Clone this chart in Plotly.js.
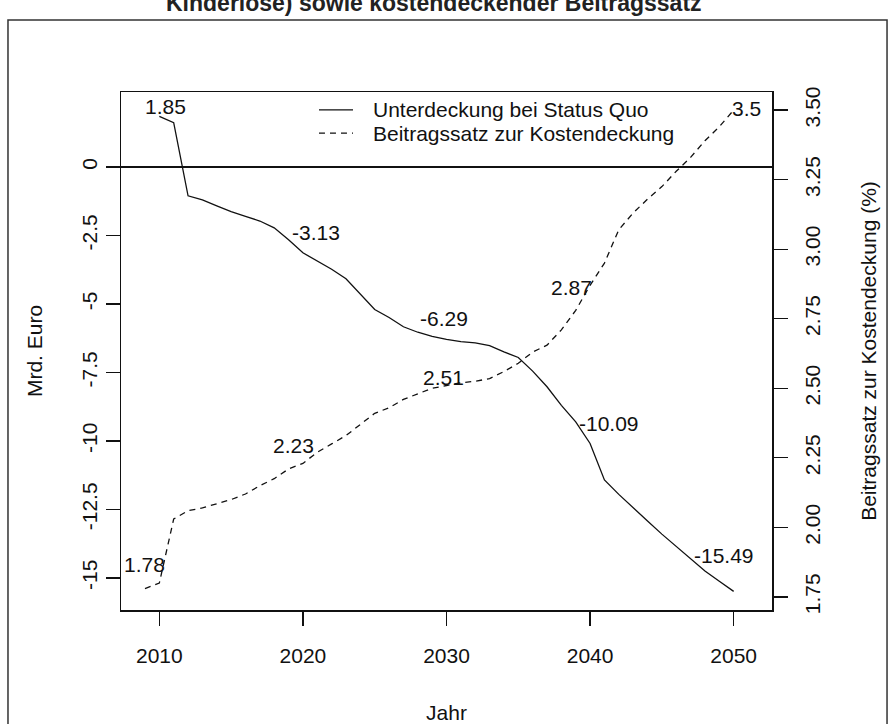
<!DOCTYPE html>
<html>
<head>
<meta charset="utf-8">
<script src="https://cdn.plot.ly/plotly-3.0.1.min.js"></script>
<style>
  html, body { margin: 0; padding: 0; background: #fff; }
  #chart { width: 892px; height: 724px; }
</style>
</head>
<body>
<div id="chart"></div>
<script>
// Unterdeckung (Mrd. Euro) bei Status Quo, 2010-2050
const deficitYears = [2010, 2011, 2012, 2013, 2014, 2015, 2016, 2017, 2018, 2019,
  2020, 2021, 2022, 2023, 2024, 2025, 2026, 2027, 2028, 2029,
  2030, 2031, 2032, 2033, 2034, 2035, 2036, 2037, 2038, 2039,
  2040, 2041, 2042, 2043, 2044, 2045, 2046, 2047, 2048, 2049, 2050];
const deficit = [1.85, 1.62, -1.05, -1.20, -1.42, -1.63, -1.80, -1.97, -2.22, -2.65,
  -3.13, -3.43, -3.73, -4.08, -4.63, -5.20, -5.49, -5.83, -6.03, -6.18,
  -6.29, -6.37, -6.42, -6.52, -6.75, -6.95, -7.45, -8.02, -8.70, -9.30,
  -10.09, -11.42, -11.95, -12.45, -12.92, -13.40, -13.85, -14.30, -14.75, -15.12, -15.49];

// Kostendeckender Beitragssatz (%), 2009-2050
const rateYears = [2009, 2010, 2011, 2012, 2013, 2014, 2015, 2016, 2017, 2018, 2019,
  2020, 2021, 2022, 2023, 2024, 2025, 2026, 2027, 2028, 2029,
  2030, 2031, 2032, 2033, 2034, 2035, 2036, 2037, 2038, 2039,
  2040, 2041, 2042, 2043, 2044, 2045, 2046, 2047, 2048, 2049, 2050];
const rate = [1.78, 1.80, 2.03, 2.06, 2.07, 2.085, 2.10, 2.12, 2.15, 2.175, 2.21,
  2.23, 2.27, 2.30, 2.33, 2.37, 2.41, 2.43, 2.46, 2.48, 2.50,
  2.51, 2.52, 2.525, 2.535, 2.56, 2.59, 2.63, 2.655, 2.71, 2.78,
  2.87, 2.95, 3.07, 3.13, 3.18, 3.225, 3.28, 3.33, 3.39, 3.44, 3.5];

// Years whose values are written next to each line
const deficitLabelYears = [2010, 2020, 2030, 2040, 2050];
const rateLabelYears = [2009, 2020, 2030, 2040, 2050];

// Axis ticks
const xTickVals = [2010, 2020, 2030, 2040, 2050];
const xTickText = ['2010', '2020', '2030', '2040', '2050'];
const yTickVals = [0, -2.5, -5, -7.5, -10, -12.5, -15];
const yTickText = ['0', '-2.5', '-5', '-7.5', '-10', '-12.5', '-15'];
const y2TickVals = [1.75, 2.0, 2.25, 2.5, 2.75, 3.0, 3.25, 3.5];
const y2TickText = ['1.75', '2.00', '2.25', '2.50', '2.75', '3.00', '3.25', '3.50'];

const seriesNames = ['Unterdeckung bei Status Quo', 'Beitragssatz zur Kostendeckung'];

// Pixel offsets of the value labels relative to their points
const deficitLabelShift = [[6, 10], [13, 20], [-3, 21], [19, 20], [-10, 36]];
const rateLabelShift = [[0, 24], [-9, 18], [-3, 8], [-19, -2], [13, 2]];

const FONT = 'Liberation Sans, Arial, sans-serif';
const INK = '#111';
const SOLID = { color: INK, width: 1.3 };
const DASHED = { color: INK, width: 1.3, dash: '6px,5px' };

const traces = [
  {
    x: deficitYears, y: deficit, name: seriesNames[0],
    type: 'scatter', mode: 'lines', yaxis: 'y', line: SOLID
  },
  {
    x: rateYears, y: rate, name: seriesNames[1],
    type: 'scatter', mode: 'lines', yaxis: 'y2', line: DASHED
  }
];

const annotations = [];
deficitLabelYears.forEach(function (yr, i) {
  const v = deficit[deficitYears.indexOf(yr)];
  annotations.push({
    x: yr, y: v, xref: 'x', yref: 'y', text: String(v), showarrow: false,
    xanchor: 'center', yanchor: 'middle',
    xshift: deficitLabelShift[i][0], yshift: deficitLabelShift[i][1],
    font: { family: FONT, size: 21, color: INK }
  });
});
rateLabelYears.forEach(function (yr, i) {
  const v = rate[rateYears.indexOf(yr)];
  annotations.push({
    x: yr, y: v, xref: 'x', yref: 'y2', text: String(v), showarrow: false,
    xanchor: 'center', yanchor: 'middle',
    xshift: rateLabelShift[i][0], yshift: rateLabelShift[i][1],
    font: { family: FONT, size: 21, color: INK }
  });
});

// Legend in the top of the plot: a line sample and the series name per row
const legendRows = [0.9653, 0.9208];
const legendStyles = [SOLID, DASHED];
const legendShapes = [];
seriesNames.forEach(function (name, i) {
  legendShapes.push({
    type: 'line', xref: 'paper', yref: 'paper',
    x0: 0.3041, x1: 0.3564, y0: legendRows[i], y1: legendRows[i],
    line: legendStyles[i]
  });
  annotations.push({
    xref: 'paper', yref: 'paper', x: 0.384, y: legendRows[i],
    xanchor: 'left', yanchor: 'middle', showarrow: false, text: name,
    font: { family: FONT, size: 21, color: INK }
  });
});

// Second line of the heading (its first line sits above the page edge)
annotations.push({
  xref: 'paper', yref: 'paper', x: 0.481, y: 1.172,
  xanchor: 'center', yanchor: 'middle', showarrow: false,
  text: '<b>Kinderlose) sowie kostendeckender Beitragssatz</b>',
  font: { family: FONT, size: 23, color: '#222' }
});

const axisCommon = {
  showgrid: false,
  ticks: 'outside', ticklen: 14, tickwidth: 1.3, tickcolor: INK,
  showline: true, linecolor: INK, linewidth: 1.5,
  tickfont: { family: FONT, size: 21, color: INK }
};

const layout = {
  width: 892, height: 724,
  margin: { l: 121, r: 120, t: 92, b: 114, pad: 0 },
  paper_bgcolor: '#fff', plot_bgcolor: '#fff',
  font: { family: FONT, size: 21, color: INK },
  showlegend: false,
  xaxis: Object.assign({}, axisCommon, {
    range: [2007.33, 2052.67],
    tickmode: 'array', tickvals: xTickVals, ticktext: xTickText,
    ticklabelstandoff: 12,
    mirror: true, zeroline: false,
    title: { text: 'Jahr', standoff: 40, font: { family: FONT, size: 21, color: INK } }
  }),
  yaxis: Object.assign({}, axisCommon, {
    range: [-16.17, 2.74],
    tickmode: 'array', tickvals: yTickVals, ticktext: yTickText,
    tickangle: -90, mirror: true,
    zeroline: true, zerolinecolor: INK, zerolinewidth: 1.5,
    title: { text: 'Mrd. Euro', standoff: 29, font: { family: FONT, size: 21, color: INK } }
  }),
  yaxis2: Object.assign({}, axisCommon, {
    overlaying: 'y', side: 'right',
    range: [1.703, 3.565],
    tickmode: 'array', tickvals: y2TickVals, ticktext: y2TickText,
    tickangle: -90, zeroline: false,
    ticklabelstandoff: 7,
    title: { text: 'Beitragssatz zur Kostendeckung (%)', standoff: 38, font: { family: FONT, size: 21, color: INK } }
  }),
  annotations: annotations,
  shapes: legendShapes.concat([
    // outer frame around the whole figure
    {
      type: 'rect', xref: 'paper', yref: 'paper',
      x0: -0.1736, x1: 1.1767, y0: -0.26, y1: 1.139,
      line: { color: '#333', width: 1.5 }, fillcolor: 'rgba(0,0,0,0)', layer: 'above'
    }
  ])
};

Plotly.newPlot('chart', traces, layout, { staticPlot: true, displayModeBar: false });
</script>
</body>
</html>
